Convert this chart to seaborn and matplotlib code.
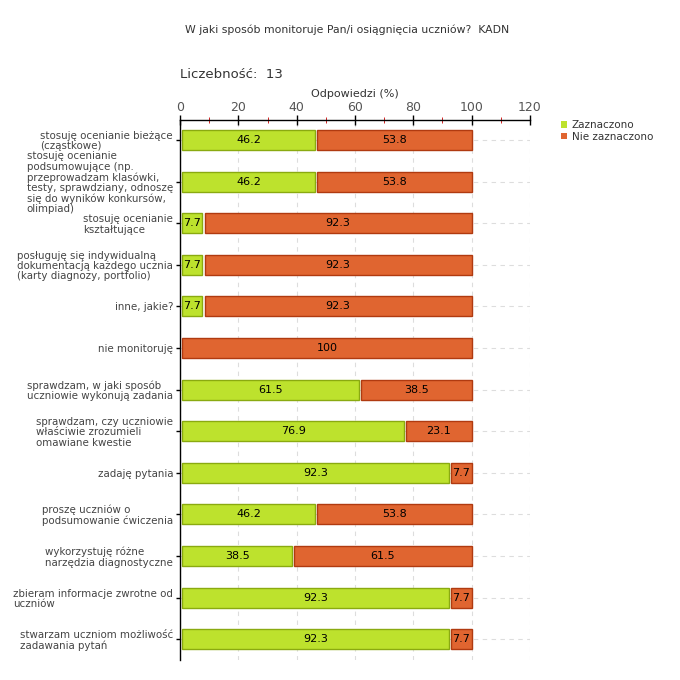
import matplotlib
matplotlib.use("Agg")
import matplotlib.pyplot as plt
from matplotlib.patches import Patch
from matplotlib.ticker import MultipleLocator
import seaborn as sns
import pandas as pd

# Data
labels = [
    "stosuję ocenianie bieżące\n(cząstkowe)",
    "stosuję ocenianie\npodsumowujące (np.\nprzeprowadzam klasówki,\ntesty, sprawdziany, odnoszę\nsię do wyników konkursów,\nolimpiad)",
    "stosuję ocenianie\nkształtujące",
    "posługuję się indywidualną\ndokumentacją każdego ucznia\n(karty diagnozy, portfolio)",
    "inne, jakie?",
    "nie monitoruję",
    "sprawdzam, w jaki sposób\nuczniowie wykonują zadania",
    "sprawdzam, czy uczniowie\nwłaściwie zrozumieli\nomawiane kwestie",
    "zadaję pytania",
    "proszę uczniów o\npodsumowanie ćwiczenia",
    "wykorzystuję różne\nnarzędzia diagnostyczne",
    "zbieram informacje zwrotne od\nuczniów",
    "stwarzam uczniom możliwość\nzadawania pytań",
]
zaznaczono = [46.2, 46.2, 7.7, 7.7, 7.7, 0, 61.5, 76.9, 92.3, 46.2, 38.5, 92.3, 92.3]
nie_zaznaczono = [53.8, 53.8, 92.3, 92.3, 92.3, 100, 38.5, 23.1, 7.7, 53.8, 61.5, 7.7, 7.7]
series_names = ["Zaznaczono", "Nie zaznaczono"]

green, green_edge = "#bde22d", "#8aaa10"
orange, orange_edge = "#e06530", "#b03a10"
text_col = "#333333"
gap = 0.7  # small white gap before each segment

sns.set_style("white")
plt.rcParams["font.family"] = ["DejaVu Sans"]

df = pd.DataFrame({"label": labels, "zaz": zaznaczono, "nie": nie_zaznaczono})

fig = plt.figure(figsize=(6.8, 6.8), dpi=100)
ax = fig.add_axes([180 / 680, 20 / 680, 350 / 680, 540 / 680])

sns.barplot(data=df, x="zaz", y="label", orient="h", color=green, width=0.48,
            edgecolor=green_edge, linewidth=1, saturation=1, ax=ax, zorder=3)
bars_z = ax.containers[0]
for p, v in zip(bars_z, zaznaczono):
    if v > 0:
        p.set_x(p.get_x() + gap)
        p.set_width(p.get_width() - gap)
    else:
        p.set_visible(False)

bars_n = ax.barh(range(len(labels)), df["nie"] - gap, left=df["zaz"] + gap, height=0.48,
                 color=orange, edgecolor=orange_edge, linewidth=1, zorder=3)

# value labels
ax.bar_label(bars_z, labels=[f"{v:g}" if v > 0 else "" for v in zaznaczono],
             label_type="center", fontsize=8, color="black")
ax.bar_label(bars_n, labels=[f"{v:g}" if v > 0 else "" for v in nie_zaznaczono],
             label_type="center", fontsize=8, color="black")

ax.set_xlim(0, 120)
ax.set_ylim(12.5, -0.48)
ax.xaxis.set_major_locator(MultipleLocator(20))
ax.xaxis.tick_top()
ax.xaxis.set_label_position("top")
ax.set_xlabel("Odpowiedzi (%)", fontsize=8, color=text_col, labelpad=3)
ax.set_ylabel("")
ax.tick_params(axis="x", which="major", direction="inout", length=7, width=1,
               labelsize=9, colors="black", pad=1)
ax.tick_params(axis="x", labelcolor="#555555")
# red minor ticks
ax.set_xticks([10, 30, 50, 70, 90, 110], minor=True)
ax.tick_params(axis="x", which="minor", direction="inout", length=5, color="#cc0000")
ax.tick_params(axis="y", direction="out", length=3, width=1, color="black",
               labelsize=7.4, labelcolor="#444444", pad=2, left=True)
for t in ax.get_yticklabels():
    t.set_multialignment("left")
    t.set_linespacing(1.05)

ax.grid(True, axis="both", linestyle=(0, (4, 4)), color="#dddddd", linewidth=0.8)
ax.set_axisbelow(True)
for side in ["right", "bottom"]:
    ax.spines[side].set_visible(False)
for side in ["top", "left"]:
    ax.spines[side].set_color("black")
    ax.spines[side].set_linewidth(1)

fig.text(185 / 680, 1 - 30 / 680, "W jaki sposób monitoruje Pan/i osiągnięcia uczniów?  KADN",
         fontsize=7.8, color=text_col, va="center", ha="left")
fig.text(180 / 680, 1 - 75 / 680, "Liczebność:  13", fontsize=9.5, color=text_col,
         va="center", ha="left")

handles = [Patch(facecolor=green, edgecolor="none"), Patch(facecolor=orange, edgecolor="none")]
fig.legend(handles, series_names, loc="upper left", bbox_to_anchor=(556 / 680, 1 - 115 / 680),
           frameon=False, fontsize=7.5, handlelength=0.6, handleheight=0.6,
           handletextpad=0.4, labelspacing=0.15, borderpad=0, labelcolor=text_col)

fig.savefig("out.png", dpi=100)
